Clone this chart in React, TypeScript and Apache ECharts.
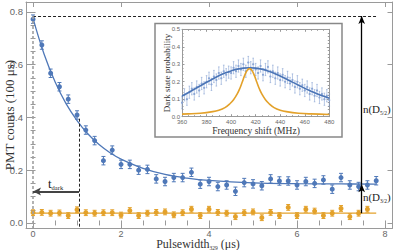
import React, { useEffect, useRef } from "react";
import * as echarts from "echarts";

// ---------- main panel data ----------
const pulsewidth = [0, 0.2, 0.4, 0.6, 0.8, 1.0, 1.2, 1.4, 1.6, 1.8, 2.0, 2.2, 2.4, 2.6, 2.8, 3.0, 3.2, 3.4, 3.6, 3.8, 4.0, 4.2, 4.4, 4.6, 4.8, 5.0, 5.2, 5.4, 5.6, 5.8, 6.0, 6.2, 6.4, 6.6, 6.8, 7.0, 7.2, 7.4, 7.6, 7.8];
const blueCounts = [0.772, 0.674, 0.567, 0.516, 0.469, 0.409, 0.352, 0.312, 0.236, 0.276, 0.222, 0.222, 0.2, 0.203, 0.167, 0.157, 0.172, 0.172, 0.192, 0.147, 0.157, 0.138, 0.144, 0.12, 0.153, 0.148, 0.141, 0.167, 0.159, 0.159, 0.144, 0.157, 0.15, 0.163, 0.128, 0.172, 0.144, 0.138, 0.144, 0.16];
const blueErr = 0.016;
const orangePulsewidth = [0, 0.2, 0.4, 0.6, 0.8, 1.0, 1.2, 1.4, 1.6, 1.8, 2.0, 2.2, 2.4, 2.6, 2.8, 3.0, 3.2, 3.4, 3.6, 3.8, 4.0, 4.2, 4.4, 4.6, 4.8, 5.0, 5.2, 5.4, 5.6, 5.8, 6.0, 6.2, 6.4, 6.6, 6.8, 7.0, 7.2, 7.4, 7.6];
const orangeCounts = [0.039, 0.04, 0.037, 0.038, 0.028, 0.05, 0.039, 0.037, 0.039, 0.039, 0.03, 0.047, 0.028, 0.037, 0.04, 0.042, 0.031, 0.039, 0.052, 0.028, 0.052, 0.04, 0.037, 0.024, 0.039, 0.042, 0.02, 0.04, 0.028, 0.059, 0.028, 0.052, 0.045, 0.028, 0.037, 0.055, 0.024, 0.037, 0.052];
const orangeErr = 0.011;
const blueFitT = [0, 0.25, 0.5, 0.75, 1, 1.25, 1.5, 1.75, 2, 2.5, 3, 3.5, 4, 5, 6, 7, 7.8];
const blueFit = [0.775, 0.64, 0.535, 0.452, 0.388, 0.337, 0.297, 0.266, 0.242, 0.207, 0.184, 0.17, 0.161, 0.152, 0.149, 0.148, 0.147];
const orangeFitT = [0, 7.8];
const orangeFit = [0.037, 0.037];
const xTickLabels = [0, 2, 4, 6, 8];
const xMinorTicks = [0, 0.5, 1, 1.5, 2, 2.5, 3, 3.5, 4, 4.5, 5, 5.5, 6, 6.5, 7, 7.5, 8];
const yTickLabels = [0, 0.2, 0.4, 0.6, 0.8];
const yMinorTicks = [0, 0.05, 0.1, 0.15, 0.2, 0.25, 0.3, 0.35, 0.4, 0.45, 0.5, 0.55, 0.6, 0.65, 0.7, 0.75, 0.8];

// annotation levels (data units)
const levelD52 = 0.784;
const levelD32 = 0.147;
const levelBase = 0.037;
const tDark = 1.045;
const tDarkArrowY = 0.119;
const arrowX = 7.47;
const tDarkLabel = [0.34, 0.131];
const d52Label = [arrowX, 0.417];
const d32Label = [arrowX, 0.085];

// ---------- inset data ----------
const freq = [360, 362, 364, 366, 368, 370, 372, 374, 376, 378, 380, 382, 384, 386, 388, 390, 392, 394, 396, 398, 400, 402, 404, 406, 408, 410, 412, 414, 416, 418, 420, 422, 424, 426, 428, 430, 432, 434, 436, 438, 440, 442, 444, 446, 448, 450, 452, 454, 456, 458, 460, 462, 464, 466, 468, 470, 472, 474, 476, 478, 480];
const darkProb = [0.08, 0.125, 0.1, 0.14, 0.16, 0.13, 0.17, 0.15, 0.19, 0.165, 0.2, 0.22, 0.185, 0.23, 0.21, 0.25, 0.22, 0.26, 0.24, 0.255, 0.25, 0.28, 0.26, 0.29, 0.27, 0.3, 0.26, 0.31, 0.28, 0.3, 0.27, 0.25, 0.29, 0.24, 0.27, 0.285, 0.23, 0.26, 0.22, 0.25, 0.21, 0.24, 0.2, 0.225, 0.19, 0.21, 0.17, 0.2, 0.16, 0.18, 0.15, 0.17, 0.13, 0.16, 0.12, 0.15, 0.11, 0.13, 0.1, 0.12, 0.095];
const darkErr = 0.035;
const insetFitF = [360, 365, 370, 375, 380, 385, 390, 395, 400, 405, 410, 415, 420, 425, 430, 435, 440, 445, 450, 455, 460, 465, 470, 475, 480];
const insetFit = [0.118, 0.137, 0.157, 0.177, 0.197, 0.216, 0.234, 0.25, 0.262, 0.272, 0.278, 0.28, 0.278, 0.272, 0.262, 0.249, 0.233, 0.216, 0.198, 0.18, 0.162, 0.146, 0.131, 0.118, 0.106];
const lorentzF = [360, 365, 375, 385, 390, 395, 399, 402, 405, 407, 409, 411, 413, 415, 417, 419, 421, 423, 425, 428, 431, 435, 440, 445, 455, 465, 480];
const lorentz = [0.015, 0.016, 0.02, 0.029, 0.037, 0.052, 0.074, 0.097, 0.13, 0.16, 0.197, 0.235, 0.264, 0.275, 0.264, 0.235, 0.197, 0.16, 0.13, 0.097, 0.074, 0.052, 0.037, 0.029, 0.02, 0.016, 0.013];

const BLUE = "#4f78b8";
const ORANGE = "#e3a12a";
const LIGHTBLUE = "#8aa6d6";
const FRAME = "#9a9a9a";
const LABEL = "#666";
const SERIF = "'Liberation Serif', 'DejaVu Serif', serif";
const SANS = "'Liberation Sans', 'DejaVu Sans', sans-serif";

const zip = (a: number[], b: number[]) => a.map((v, i) => [v, b[i]]);

const errRender = (cap: number, color: string, width: number) => (params: any, api: any) => {
  const x = api.value(0);
  const y = api.value(1);
  const e = api.value(2);
  const top = api.coord([x, y + e]);
  const bot = api.coord([x, y - e]);
  const style = { stroke: color, lineWidth: width };
  return {
    type: "group",
    children: [
      { type: "line", shape: { x1: top[0], y1: top[1], x2: bot[0], y2: bot[1] }, style },
      { type: "line", shape: { x1: top[0] - cap, y1: top[1], x2: top[0] + cap, y2: top[1] }, style },
      { type: "line", shape: { x1: bot[0] - cap, y1: bot[1], x2: bot[0] + cap, y2: bot[1] }, style },
    ],
  };
};

let measureCtx: CanvasRenderingContext2D | null = null;
const measure = (text: string, font: string) => {
  if (!measureCtx) measureCtx = document.createElement("canvas").getContext("2d");
  if (!measureCtx) return text.length * 5;
  measureCtx.font = font;
  return measureCtx.measureText(text).width;
};

type Part = { t: string; size: number; drop?: number };
// builds a line of text with subscripts; (x, baseline) in pixels
const subText = (x: number, baseline: number, parts: Part[], align: "left" | "center", color = "#222") => {
  const widths = parts.map((p) => measure(p.t, `${p.size}px ${SERIF}`));
  const total = widths.reduce((a, b) => a + b, 0);
  let cx = align === "center" ? x - total / 2 : x;
  return parts.map((p, i) => {
    const el = {
      type: "text",
      z: 10,
      x: cx,
      y: baseline + (p.drop || 0) - 0.34 * p.size,
      style: { text: p.t, font: `${p.size}px ${SERIF}`, fill: color, align: "left", verticalAlign: "middle" },
    };
    cx += widths[i];
    return el;
  });
};

export default function App() {
  const ref = useRef<HTMLDivElement>(null);
  useEffect(() => {
    if (!ref.current) return;
    const chart = echarts.init(ref.current, undefined, { renderer: "svg" });
    const lineStyle = { color: FRAME, width: 1 };
    const mainX = { gridIndex: 0, type: "value", min: -0.16, max: 8.17, splitLine: { show: false } };
    const mainY = { gridIndex: 0, type: "value", min: -0.019, max: 0.837, splitLine: { show: false } };
    const insX = { gridIndex: 1, type: "value", min: 360, max: 480, splitLine: { show: false } };
    const insY = { gridIndex: 1, type: "value", min: 0, max: 0.5, splitLine: { show: false } };

    const option: any = {
      animation: false,
      backgroundColor: "#fff",
      grid: [
        { left: 26, top: 2, width: 366.5, height: 226, show: false },
        { left: 182, top: 29.3, width: 147.3, height: 87.4, show: false },
      ],
      xAxis: [
        { ...mainX, position: "bottom", axisLine: { show: true, onZero: false, lineStyle }, axisTick: { show: true, inside: true, length: 5, customValues: xTickLabels, lineStyle }, axisLabel: { show: true, customValues: xTickLabels, color: LABEL, fontSize: 9, fontFamily: SANS, margin: 1 } },
        { ...mainX, position: "top", axisLine: { show: true, onZero: false, lineStyle }, axisTick: { show: true, inside: true, length: 5, customValues: xTickLabels, lineStyle }, axisLabel: { show: false } },
        { ...mainX, position: "bottom", axisLine: { show: false }, axisTick: { show: true, inside: true, length: 2.5, customValues: xMinorTicks, lineStyle }, axisLabel: { show: false } },
        { ...mainX, position: "top", axisLine: { show: false }, axisTick: { show: true, inside: true, length: 2.5, customValues: xMinorTicks, lineStyle }, axisLabel: { show: false } },
        { ...insX, position: "bottom", interval: 20, axisLine: { show: true, onZero: false, lineStyle }, axisTick: { show: true, inside: true, length: 2.5, lineStyle }, minorTick: { show: true, splitNumber: 4, length: 1.5, lineStyle }, axisLabel: { show: true, color: LABEL, fontSize: 6, fontFamily: SANS, margin: 2 } },
        { ...insX, position: "top", interval: 20, axisLine: { show: true, onZero: false, lineStyle }, axisTick: { show: true, inside: true, length: 2.5, lineStyle }, minorTick: { show: true, splitNumber: 4, length: 1.5, lineStyle }, axisLabel: { show: false } },
      ],
      yAxis: [
        { ...mainY, position: "left", axisLine: { show: true, onZero: false, lineStyle }, axisTick: { show: true, inside: true, length: 5, customValues: yTickLabels, lineStyle }, axisLabel: { show: true, customValues: yTickLabels, color: LABEL, fontSize: 9.5, fontFamily: SANS, margin: 3, formatter: (v: number) => v.toFixed(1) } },
        { ...mainY, position: "right", axisLine: { show: true, onZero: false, lineStyle }, axisTick: { show: true, inside: true, length: 5, customValues: yTickLabels, lineStyle }, axisLabel: { show: false } },
        { ...mainY, position: "left", axisLine: { show: false }, axisTick: { show: true, inside: true, length: 2.5, customValues: yMinorTicks, lineStyle }, axisLabel: { show: false } },
        { ...mainY, position: "right", axisLine: { show: false }, axisTick: { show: true, inside: true, length: 2.5, customValues: yMinorTicks, lineStyle }, axisLabel: { show: false } },
        { ...insY, position: "left", interval: 0.1, axisLine: { show: true, onZero: false, lineStyle }, axisTick: { show: true, inside: true, length: 2.5, lineStyle }, minorTick: { show: true, splitNumber: 5, length: 1.5, lineStyle }, axisLabel: { show: true, color: LABEL, fontSize: 6, fontFamily: SANS, margin: 2, formatter: (v: number) => v.toFixed(1) } },
        { ...insY, position: "right", interval: 0.1, axisLine: { show: true, onZero: false, lineStyle }, axisTick: { show: true, inside: true, length: 2.5, lineStyle }, minorTick: { show: true, splitNumber: 5, length: 1.5, lineStyle }, axisLabel: { show: false } },
      ],
      series: [
        // main fits
        { type: "line", xAxisIndex: 0, yAxisIndex: 0, data: zip(blueFitT, blueFit), smooth: 0.4, showSymbol: false, lineStyle: { color: BLUE, width: 1.3 }, z: 2 },
        { type: "line", xAxisIndex: 0, yAxisIndex: 0, data: zip(orangeFitT, orangeFit), showSymbol: false, lineStyle: { color: ORANGE, width: 1.3 }, z: 2 },
        // error bars
        { type: "custom", xAxisIndex: 0, yAxisIndex: 0, renderItem: errRender(2, BLUE, 1), data: pulsewidth.map((x, i) => [x, blueCounts[i], blueErr]), encode: { x: 0, y: 1 }, z: 3 },
        { type: "custom", xAxisIndex: 0, yAxisIndex: 0, renderItem: errRender(2, ORANGE, 1), data: orangePulsewidth.map((x, i) => [x, orangeCounts[i], orangeErr]), encode: { x: 0, y: 1 }, z: 3 },
        { type: "scatter", xAxisIndex: 0, yAxisIndex: 0, data: zip(pulsewidth, blueCounts), symbolSize: 5, itemStyle: { color: BLUE, opacity: 1 }, z: 4 },
        { type: "scatter", xAxisIndex: 0, yAxisIndex: 0, data: zip(orangePulsewidth, orangeCounts), symbolSize: 5, itemStyle: { color: ORANGE, opacity: 1 }, z: 4 },
        // annotations
        {
          type: "line", xAxisIndex: 0, yAxisIndex: 0, data: [], z: 5,
          markLine: {
            silent: true, symbol: ["none", "none"], symbolSize: [6, 8], label: { show: false },
            data: [
              [{ coord: [0, levelD52], lineStyle: { type: [3, 2], color: "#222", width: 1 } }, { coord: [7.84, levelD52] }],
              [{ coord: [0, levelD52], lineStyle: { type: [3, 2], color: "#a0a0a0", width: 1.6 } }, { coord: [0, -0.019] }],
              [{ coord: [tDark, 0.395], lineStyle: { type: [3, 2], color: "#222", width: 1 } }, { coord: [tDark, -0.019] }],
              [{ coord: [tDark, tDarkArrowY], lineStyle: { type: "solid", color: "#444", width: 1.8 } }, { coord: [0, tDarkArrowY], symbol: "arrow", symbolSize: [6, 8] }],
              [{ coord: [arrowX, levelD32], lineStyle: { type: "solid", color: "#000", width: 1.3 } }, { coord: [arrowX, levelD52], symbol: "arrow", symbolSize: [5, 8] }],
              [{ coord: [arrowX, levelBase], lineStyle: { type: "solid", color: "#000", width: 1.3 } }, { coord: [arrowX, levelD32], symbol: "arrow", symbolSize: [5, 8] }],
            ],
          },
        },
        // inset
        { type: "custom", xAxisIndex: 4, yAxisIndex: 4, renderItem: errRender(0.8, "rgba(120,150,205,0.65)", 0.8), data: freq.map((f, i) => [f, darkProb[i], darkErr]), encode: { x: 0, y: 1 }, z: 3 },
        { type: "scatter", xAxisIndex: 4, yAxisIndex: 4, data: zip(freq, darkProb), symbolSize: 2.2, itemStyle: { color: LIGHTBLUE, opacity: 1 }, z: 4 },
        { type: "line", xAxisIndex: 4, yAxisIndex: 4, data: zip(insetFitF, insetFit), smooth: 0.4, showSymbol: false, lineStyle: { color: "#4a74b6", width: 1.6 }, z: 5 },
        { type: "line", xAxisIndex: 4, yAxisIndex: 4, data: zip(lorentzF, lorentz), smooth: 0.4, showSymbol: false, lineStyle: { color: ORANGE, width: 1.6 }, z: 5 },
      ],
    };
    chart.setOption(option);

    const px = (v: number[]) => chart.convertToPixel({ seriesIndex: 4 }, v) as number[];
    const td = px(tDarkLabel);
    const d52 = px(d52Label);
    const d32 = px(d32Label);

    const graphics: any[] = [
      { type: "rect", z: -1, shape: { x: 155, y: 23.5, width: 187, height: 113.5 }, style: { fill: "#fff", stroke: "#888", lineWidth: 1.5 } },
      { type: "text", z: 10, x: 9, y: 115, rotation: Math.PI / 2, style: { text: "PMT counts (100 μs)", font: `13px ${SERIF}`, fill: "#333", align: "center", verticalAlign: "middle" } },
      { type: "text", z: 10, x: 167, y: 73, rotation: Math.PI / 2, style: { text: "Dark state probability", font: `9px ${SERIF}`, fill: "#333", align: "center", verticalAlign: "middle" } },
      { type: "text", z: 10, x: 256, y: 131, style: { text: "Frequency shift (MHz)", font: `9.5px ${SERIF}`, fill: "#333", align: "center", verticalAlign: "middle" } },
      ...subText(198, 248, [{ t: "Pulsewidth", size: 12 }, { t: "329", size: 5.5, drop: 1.5 }, { t: " (μs)", size: 12 }], "center", "#333"),
      ...subText(td[0], td[1], [{ t: "t", size: 13 }, { t: "dark", size: 6.5, drop: 1 }], "left"),
      ...subText(d52[0] + 1.2, d52[1], [{ t: "n(D", size: 11 }, { t: "5/2", size: 5.5, drop: 2 }, { t: ")", size: 11 }], "left"),
      ...subText(d32[0] + 1.2, d32[1], [{ t: "n(D", size: 11 }, { t: "3/2", size: 5.5, drop: 2 }, { t: ")", size: 11 }], "left"),
    ];
    chart.setOption({ graphic: graphics });
    return () => chart.dispose();
  }, []);
  return <div ref={ref} style={{ position: "fixed", left: 0, top: 0, width: 394, height: 250, background: "#fff" }} />;
}
